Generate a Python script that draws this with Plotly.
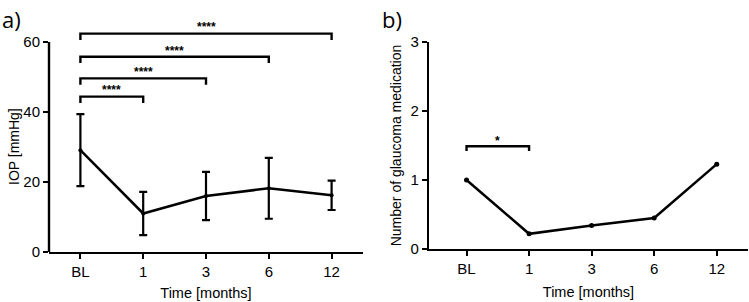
import plotly.graph_objects as go

# data
months = ["BL", "1", "3", "6", "12"]
iop_mean = [29.1, 11.0, 16.0, 18.2, 16.2]
iop_sd = [10.3, 6.2, 6.9, 8.7, 4.2]
meds_mean = [1.0, 0.22, 0.34, 0.45, 1.23]

# significance brackets: (from, to, height, label)
iop_sig = [("BL", "1", 44.4, "****"), ("BL", "3", 49.6, "****"),
           ("BL", "6", 55.8, "****"), ("BL", "12", 62.4, "****")]
meds_sig = [("BL", "1", 1.49, "*")]

font_fam = "Liberation Sans, Arial, sans-serif"

fig = go.Figure()

fig.add_trace(go.Scatter(
    x=months, y=iop_mean, mode="lines+markers",
    line=dict(color="black", width=2.5), marker=dict(color="black", size=4),
    error_y=dict(type="data", array=iop_sd, color="black", thickness=2.2, width=4),
    xaxis="x", yaxis="y", showlegend=False))

fig.add_trace(go.Scatter(
    x=months, y=meds_mean, mode="lines+markers",
    line=dict(color="black", width=2.5), marker=dict(color="black", size=5),
    xaxis="x2", yaxis="y2", showlegend=False))


def bracket(xa, ya, a, b, h, lab, drop, gap):
    i, j = months.index(a), months.index(b)
    fig.add_shape(type="path", xref=xa, yref=ya,
                  path=f"M {i},{h - drop} L {i},{h} L {j},{h} L {j},{h - drop}",
                  line=dict(color="black", width=2.4))
    fig.add_annotation(x=(i + j) / 2, y=h + gap, xref=xa, yref=ya, text="<b>" + lab + "</b>",
                       showarrow=False, font=dict(size=12, color="black", family=font_fam),
                       yanchor="bottom")


for a, b, h, lab in iop_sig:
    bracket("x", "y", a, b, h, lab, 1.8, -0.8)
for a, b, h, lab in meds_sig:
    bracket("x2", "y2", a, b, h, lab, 0.07, -0.055)

# y-axis line of panel a only reaches 60
fig.add_shape(type="line", xref="x domain", yref="y", x0=0, x1=0, y0=0, y1=60,
              line=dict(color="black", width=2.4))

ax = dict(showgrid=False, zeroline=False, ticks="outside", ticklen=5, tickwidth=2,
          tickcolor="black", tickfont=dict(size=15, color="black", family=font_fam),
          title_font=dict(size=14.5, color="black", family=font_fam))

fig.update_layout(
    width=749, height=302, margin=dict(l=0, r=0, t=0, b=0, autoexpand=False),
    plot_bgcolor="white", paper_bgcolor="white",
    xaxis=dict(ax, domain=[49 / 749, 363 / 749], type="category", range=[-0.5, 4.5],
               showline=True, linecolor="black", linewidth=2.4, anchor="y",
               title=dict(text="Time [months]", standoff=9)),
    yaxis=dict(ax, domain=[50 / 302, 288 / 302], range=[0, 68], tickvals=[0, 20, 40, 60],
               showline=False, anchor="x"),
    xaxis2=dict(ax, domain=[429 / 749, 748 / 749], type="category", range=[-0.6, 4.5],
                showline=True, linecolor="black", linewidth=2.4, anchor="y2",
                title=dict(text="Time [months]", standoff=11)),
    yaxis2=dict(ax, domain=[53 / 302, 260 / 302], range=[0, 3], tickvals=[0, 1, 2, 3],
                showline=True, linecolor="black", linewidth=2.4, anchor="x2",
                title=dict(text="Number of glaucoma medication", standoff=6,
                           font=dict(size=14))),
)

# y title of panel a, placed where the reference has it
fig.add_annotation(x=14 / 749, y=30, xref="paper", yref="y", text="IOP [mmHg]",
                   textangle=-90, showarrow=False, xanchor="center", yanchor="middle",
                   font=dict(size=14, color="black", family=font_fam))

for txt, xp in [("a)", 0.0), ("b)", 380 / 749)]:
    fig.add_annotation(x=xp, y=0.995, xref="paper", yref="paper", text=txt, showarrow=False,
                       xanchor="left", yanchor="top",
                       font=dict(size=22, color="black", family="Open Sans, sans-serif"))

# the page body has a default 8px margin; drop it so the figure sits at 0,0
fig.write_html("out.html", config={"displayModeBar": False},
               post_script="document.body.style.margin='0';")
